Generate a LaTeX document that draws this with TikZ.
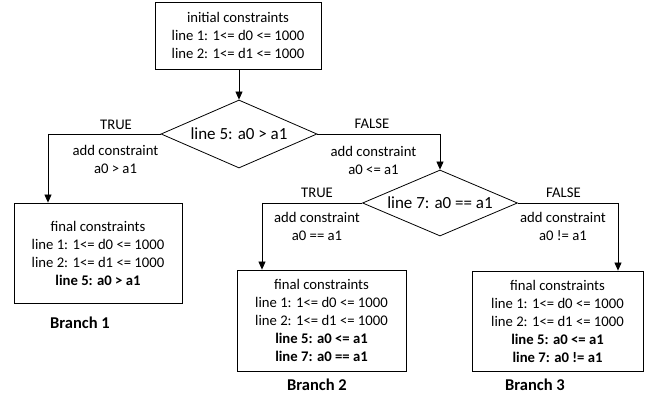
\documentclass[tikz,border=0pt]{standalone}
\usepackage{fontspec}
\setmainfont{Carlito}
\usetikzlibrary{shapes.geometric,arrows.meta}
\begin{document}
\begin{tikzpicture}[x=1pt,y=-1pt,
  every node/.style={font=\fontsize{14.7}{18}\selectfont, inner sep=0pt},
  box/.style={draw, line width=0.8pt, align=center},
  dec/.style={draw, diamond, aspect=2.3, line width=0.8pt, font=\fontsize{17}{20}\selectfont},
  lbl/.style={align=center},
  brn/.style={font=\fontsize{16.5}{20}\selectfont\bfseries},
  arr/.style={line width=0.8pt, -{Triangle[length=8pt,width=7pt]}},
  ln/.style={line width=0.8pt}]
\useasboundingbox (0,0) rectangle (649,401);
\node[box, minimum width=166pt, minimum height=67pt] (top) at (238,35.5)
  {initial constraints\\line 1: 1<= d0 <= 1000\\line 2: 1<= d1 <= 1000};
\node[dec, minimum width=156pt, minimum height=68pt] (d1) at (239,134) {line 5: a0 > a1};
\node[dec, minimum width=155pt, minimum height=66pt] (d2) at (440,203) {line 7: a0 == a1};
\node[box, minimum width=168pt, minimum height=100pt] (b1) at (98,253)
  {final constraints\\line 1: 1<= d0 <= 1000\\line 2: 1<= d1 <= 1000\\\textbf{line 5: a0 > a1}};
\node[box, minimum width=169pt, minimum height=101pt] (b2) at (321.5,320.5)
  {final constraints\\line 1: 1<= d0 <= 1000\\line 2: 1<= d1 <= 1000\\\textbf{line 5: a0 <= a1}\\\textbf{line 7: a0 == a1}};
\node[box, minimum width=171pt, minimum height=100pt] (b3) at (557.5,321)
  {final constraints\\line 1: 1<= d0 <= 1000\\line 2: 1<= d1 <= 1000\\\textbf{line 5: a0 <= a1}\\\textbf{line 7: a0 != a1}};
\coordinate (c1) at (48,134);
\coordinate (c2) at (440,134);
\coordinate (c3) at (262,203);
\coordinate (c4) at (618,203);
\draw[arr] (top.south -| d1.north) -- (d1.north);
\draw[ln] (d1.west) -- (c1);
\draw[arr] (c1) -- (c1 |- b1.north);
\draw[ln] (d1.east) -- (c2);
\draw[arr] (c2) -- (d2.north);
\draw[ln] (d2.west) -- (c3);
\draw[arr] (c3) -- (c3 |- b2.north);
\draw[ln] (d2.east) -- (c4);
\draw[arr] (c4) -- (c4 |- b3.north);
\node (t1) at (116,125) {TRUE};
\node[lbl] (a1) at (115.5,159.5) {add constraint\\a0 > a1};
\node (f1) at (372,124) {FALSE};
\node[lbl] (a2) at (373.5,160) {add constraint\\a0 <= a1};
\node (t2) at (317,193) {TRUE};
\node[lbl] (a3) at (317,226.5) {add constraint\\a0 == a1};
\node (f2) at (563.5,193) {FALSE};
\node[lbl] (a4) at (563,226.5) {add constraint\\a0 != a1};
\node[brn] (n1) at (80,323) {Branch 1};
\node[brn] (n2) at (317,385) {Branch 2};
\node[brn] (n3) at (535,385) {Branch 3};
\end{tikzpicture}
\end{document}
